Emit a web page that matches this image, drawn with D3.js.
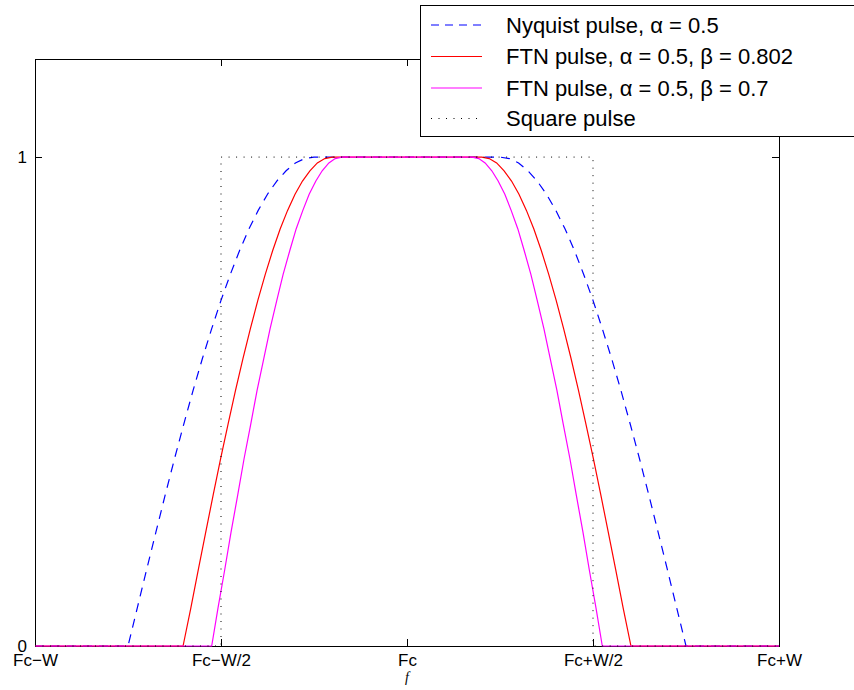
<!DOCTYPE html>
<html>
<head>
<meta charset="utf-8">
<script src="https://cdn.jsdelivr.net/npm/d3@7"></script>
<style>
  body { margin: 0; background: #fff; }
  svg { display: block; font-family: "Liberation Sans", Arial, Helvetica, sans-serif; }
</style>
</head>
<body>
<div id="chart"></div>
<script>
// tick values and labels (frequency in units of W around Fc)
const xTickValues = [-1, -0.5, 0, 0.5, 1]
const xTickLabels = ['Fc\u2212W', 'Fc\u2212W/2', 'Fc', 'Fc+W/2', 'Fc+W']
const yTickValues = [0, 1]

// gain (same rolloff shape for all three pulses)
const rolloffGain = [0, 0, 0.078, 0.156, 0.233, 0.309, 0.383, 0.454, 0.523, 0.588, 0.649,
  0.707, 0.760, 0.809, 0.853, 0.891, 0.924, 0.951, 0.972, 0.988, 0.997, 1,
  1, 0.997, 0.988, 0.972, 0.951, 0.924, 0.891, 0.853, 0.809, 0.760, 0.707,
  0.649, 0.588, 0.523, 0.454, 0.383, 0.309, 0.233, 0.156, 0.078, 0, 0]

const nyquistFreq = [-1, -0.75, -0.725, -0.7, -0.675, -0.65, -0.625, -0.6, -0.575, -0.55, -0.525,
  -0.5, -0.475, -0.45, -0.425, -0.4, -0.375, -0.35, -0.325, -0.3, -0.275, -0.25,
  0.25, 0.275, 0.3, 0.325, 0.35, 0.375, 0.4, 0.425, 0.45, 0.475, 0.5,
  0.525, 0.55, 0.575, 0.6, 0.625, 0.65, 0.675, 0.7, 0.725, 0.75, 1]

const ftn802Freq = [-1, -0.602, -0.581, -0.561, -0.541, -0.521, -0.501, -0.481, -0.461, -0.441, -0.421,
  -0.401, -0.381, -0.361, -0.341, -0.321, -0.301, -0.281, -0.261, -0.241, -0.221, -0.201,
  0.201, 0.221, 0.241, 0.261, 0.281, 0.301, 0.321, 0.341, 0.361, 0.381, 0.401,
  0.421, 0.441, 0.461, 0.481, 0.501, 0.521, 0.541, 0.561, 0.581, 0.602, 1]

const ftn07Freq = [-1, -0.525, -0.508, -0.49, -0.473, -0.455, -0.438, -0.42, -0.403, -0.385, -0.368,
  -0.35, -0.333, -0.315, -0.298, -0.28, -0.263, -0.245, -0.228, -0.21, -0.193, -0.175,
  0.175, 0.193, 0.21, 0.228, 0.245, 0.263, 0.28, 0.298, 0.315, 0.333, 0.35,
  0.368, 0.385, 0.403, 0.42, 0.438, 0.455, 0.473, 0.49, 0.508, 0.525, 1]

const squareFreq = [-1, -0.5, -0.5, 0.5, 0.5, 1]
const squareGain = [0, 0, 1, 1, 0, 0]

const legendLabels = [
  'Nyquist pulse, \u03b1 = 0.5',
  'FTN pulse, \u03b1 = 0.5, \u03b2 = 0.802',
  'FTN pulse, \u03b1 = 0.5, \u03b2 = 0.7',
  'Square pulse'
]

const width = 854
const height = 690
const plotLeft = 35, plotRight = 779, plotTop = 59.3, plotBottom = 646

const svg = d3.select('#chart').append('svg')
  .attr('width', width)
  .attr('height', height)

const x = d3.scaleLinear().domain([-1, 1]).range([plotLeft, plotRight])
const y = d3.scaleLinear().domain([0, 1.2]).range([plotBottom, plotTop])

// axes with inward ticks, box style
const axisG = svg.append('g').attr('shape-rendering', 'crispEdges')

axisG.append('g')
  .attr('transform', `translate(0,${plotBottom})`)
  .call(d3.axisBottom(x).tickValues(xTickValues).tickSize(-7).tickSizeOuter(0).tickPadding(8)
    .tickFormat((d, i) => xTickLabels[i]))

axisG.append('g')
  .attr('transform', `translate(0,${plotTop})`)
  .call(d3.axisTop(x).tickValues(xTickValues).tickSize(-7).tickSizeOuter(0).tickFormat(''))

axisG.append('g')
  .attr('transform', `translate(${plotLeft},0)`)
  .call(d3.axisLeft(y).tickValues(yTickValues).tickSize(-7).tickSizeOuter(0).tickPadding(8)
    .tickFormat(d3.format('d')))

axisG.append('g')
  .attr('transform', `translate(${plotRight},0)`)
  .call(d3.axisRight(y).tickValues(yTickValues).tickSize(-7).tickSizeOuter(0).tickFormat(''))

axisG.selectAll('.domain, .tick line').attr('stroke', '#000').attr('stroke-width', 1)
axisG.selectAll('.tick text')
  .attr('fill', '#000')
  .attr('font-size', 17)
  .attr('font-family', '"Liberation Sans", Arial, sans-serif')

// x label
svg.append('text')
  .attr('x', x(0))
  .attr('y', 682)
  .attr('text-anchor', 'middle')
  .attr('font-family', '"Liberation Serif", "Times New Roman", serif')
  .attr('font-style', 'italic')
  .attr('font-size', 14)
  .text('f')

const line = d3.line()
  .x(d => x(d[0]))
  .y(d => y(d[1]))

const series = [
  { freq: nyquistFreq, gain: rolloffGain, color: '#0000ff', dash: '9,7', width: 1.2 },
  { freq: ftn802Freq, gain: rolloffGain, color: '#ff0000', dash: null, width: 1.2 },
  { freq: ftn07Freq, gain: rolloffGain, color: '#ff00ff', dash: null, width: 1.2 },
  { freq: squareFreq, gain: squareGain, color: '#000000', dash: '1,6.5', width: 1 }
]

svg.append('g')
  .selectAll('path')
  .data(series)
  .enter()
  .append('path')
  .attr('d', s => line(d3.zip(s.freq, s.gain)))
  .attr('fill', 'none')
  .attr('stroke', s => s.color)
  .attr('stroke-width', s => s.width)
  .attr('stroke-dasharray', s => s.dash)

// legend box
const legend = svg.append('g')
legend.append('rect')
  .attr('x', 420.5)
  .attr('y', 5.5)
  .attr('width', 450)
  .attr('height', 131)
  .attr('fill', '#fff')
  .attr('stroke', '#000')
  .attr('stroke-width', 1)
  .attr('shape-rendering', 'crispEdges')

const legendRows = legend.selectAll('g.row')
  .data(series)
  .enter()
  .append('g')
  .attr('class', 'row')
  .attr('transform', (d, i) => `translate(0,${[32.5, 64, 95.5, 126][i]})`)

legendRows.append('line')
  .attr('x1', 431)
  .attr('x2', 482)
  .attr('y1', -7.5)
  .attr('y2', -7.5)
  .attr('stroke', s => s.color)
  .attr('stroke-width', s => s.width)
  .attr('stroke-dasharray', (s, i) => i === 0 ? '8,6' : s.dash)

legendRows.append('text')
  .attr('x', 506)
  .attr('y', 0)
  .attr('font-size', 22)
  .attr('fill', '#000')
  .text((d, i) => legendLabels[i])
</script>
</body>
</html>
